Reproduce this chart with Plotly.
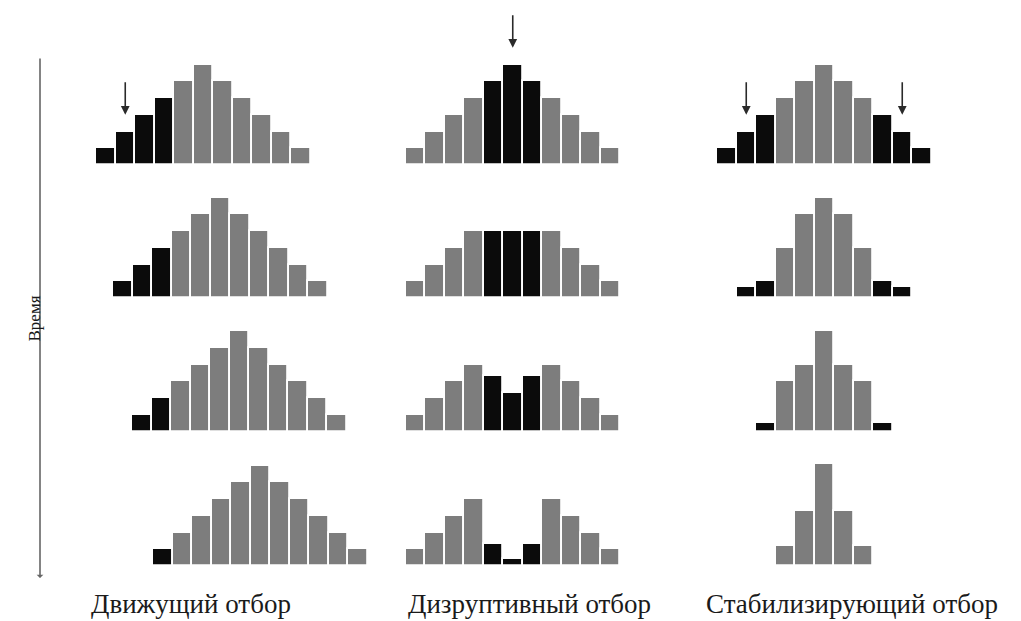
import plotly.graph_objects as go

# ---------------- data ----------------
panel_titles = ["Движущий отбор", "Дизруптивный отбор", "Стабилизирующий отбор"]
time_label = "Время"

# heights of histogram bars (in units), per panel, per row (top -> bottom)
directional_rows = [
    [1, 2, 3, 4, 5, 6, 5, 4, 3, 2, 1],
    [1, 2, 3, 4, 5, 6, 5, 4, 3, 2, 1],
    [1, 2, 3, 4, 5, 6, 5, 4, 3, 2, 1],
    [1, 2, 3, 4, 5, 6, 5, 4, 3, 2, 1],
]
directional_black = [[0, 1, 2, 3], [0, 1, 2], [0, 1], [0]]

disruptive_rows = [
    [1, 2, 3, 4, 5, 6, 5, 4, 3, 2, 1],
    [1, 2, 3, 4, 4, 4, 4, 4, 3, 2, 1],
    [1, 2, 3, 4, 3.3, 2.3, 3.3, 4, 3, 2, 1],
    [1, 2, 3, 4, 1.3, 0.4, 1.3, 4, 3, 2, 1],
]
disruptive_black = [[4, 5, 6], [4, 5, 6], [4, 5, 6], [4, 5, 6]]

stabilizing_rows = [
    [1, 2, 3, 4, 5, 6, 5, 4, 3, 2, 1],
    [0.65, 1, 3, 5, 6, 5, 3, 1, 0.65],
    [0.5, 3, 4, 6, 4, 3, 0.5],
    [1.2, 3.3, 6.1, 3.3, 1.2],
]
stabilizing_black = [[0, 1, 2, 8, 9, 10], [0, 1, 7, 8], [0, 6], []]

# arrows (selection pressure) on the first row: bar index in that row
directional_arrows = [1]
disruptive_arrows = [5]
stabilizing_arrows = [1, 9]

# ---------------- layout constants ----------------
PAGE_W, PAGE_H = 1021, 621
OFF = 8                       # default page body margin
W, H = PAGE_W - OFF, PAGE_H - OFF
SLOT_PX = 19.5     # bar width in pixels
UNIT_PX = 16.75    # one height unit in pixels
row_baseline_px = [165, 298, 431.5, 566]          # screen px
# left edge (screen px) of each row's first bar, per panel
panel_start_px = [
    [96, 113, 132, 153],
    [405.5, 405.5, 405.5, 405.5],
    [717, 736.5, 756, 775.5],
]
BLACK = "#0b0b0b"
GRAY = "#7d7d7d"


def sx(px):
    return px - OFF


def sy(px):
    return px - OFF


panels = [
    (directional_rows, directional_black, directional_arrows),
    (disruptive_rows, disruptive_black, disruptive_arrows),
    (stabilizing_rows, stabilizing_black, stabilizing_arrows),
]

fig = go.Figure()
annotations = []

for p, (rows, blacks, arrows) in enumerate(panels):
    for r, heights in enumerate(rows):
        start = sx(panel_start_px[p][r]) / SLOT_PX
        base = (H - sy(row_baseline_px[r])) / UNIT_PX
        xs = [start + i + 0.5 for i in range(len(heights))]
        colors = [BLACK if i in blacks[r] else GRAY for i in range(len(heights))]
        fig.add_trace(go.Bar(
            x=xs, y=heights, base=[base] * len(heights), width=1.0,
            marker=dict(color=colors, line=dict(color="white", width=1.8)),
            showlegend=False, hoverinfo="skip",
        ))
        if r == 0:
            for a in arrows:
                annotations.append(dict(
                    x=xs[a], y=base + heights[a] + 1.0, xref="x", yref="y",
                    ax=0, ay=-34, axref="pixel", ayref="pixel",
                    text="", showarrow=True, arrowhead=2, arrowsize=1.1,
                    arrowwidth=1.6, arrowcolor="#2a2a2a",
                ))

# time axis
annotations.append(dict(
    x=sx(40) / W, y=(H - sy(578)) / H, xref="paper", yref="paper",
    ax=0, ay=-521, text="", showarrow=True, arrowhead=1, arrowsize=0.7,
    arrowwidth=1.6, arrowcolor="#666666",
))
annotations.append(dict(
    x=sx(22) / W, y=(H - sy(319)) / H, xref="paper", yref="paper",
    text=time_label, showarrow=False, textangle=-90,
    font=dict(family="Liberation Serif", size=17, color="#1a1a1a"),
))

label_cx = [191, 529, 852]
for t, cx in zip(panel_titles, label_cx):
    annotations.append(dict(
        x=sx(cx) / W, y=(H - sy(604)) / H, xref="paper", yref="paper",
        text=t, showarrow=False, xanchor="center", yanchor="middle",
        font=dict(family="Liberation Serif", size=27, color="#1a1a1a"),
    ))

fig.update_layout(
    width=W, height=H, autosize=False,
    margin=dict(l=0, r=0, t=0, b=0),
    paper_bgcolor="white", plot_bgcolor="white",
    barmode="overlay", bargap=0,
    xaxis=dict(range=[0, W / SLOT_PX], visible=False, fixedrange=True),
    yaxis=dict(range=[0, H / UNIT_PX], visible=False, fixedrange=True),
    annotations=annotations,
)

fig.write_html("out.html")
